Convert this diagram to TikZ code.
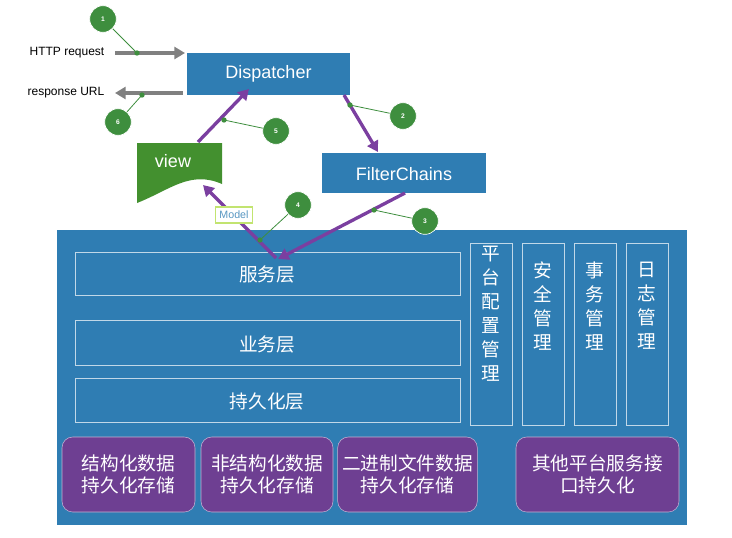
\documentclass[tikz,border=0pt]{standalone}
\usepackage{fontspec}
\setmainfont{Liberation Sans}
\newfontfamily\cjk{Noto Sans CJK SC}
\usetikzlibrary{arrows.meta}
\definecolor{pblue}{HTML}{2F7DB3}
\definecolor{ppur}{HTML}{6E3F92}
\definecolor{arrp}{HTML}{7B3FA0}
\definecolor{pgreen}{HTML}{43902F}
\definecolor{cgreen}{HTML}{3E8E3E}
\begin{document}
\begin{tikzpicture}[x=0.75pt,y=-0.75pt,
 txt/.style={text=white,font=\fontsize{13.5}{13.5}\selectfont},
 ctxt/.style={text=white,font=\cjk\fontsize{14}{14}\selectfont},
 col/.style={text=white,align=center,inner sep=0,font=\cjk\fontsize{14}{18}\selectfont},
 frame/.style={draw=white!70!pblue,line width=0.6pt},
 pur/.style={fill=ppur,draw=white!60!ppur,rounded corners=8pt,text=white,align=center,font=\cjk\fontsize{14}{17}\selectfont},
 parr/.style={arrp,line width=2.5pt,-{Triangle[length=8pt,width=9pt]}},
 garr/.style={gray,line width=2.5pt,-{Triangle[length=8pt,width=9pt]}},
 num/.style={circle,fill=cgreen,draw=white,line width=0.5pt,minimum size=20pt,inner sep=0,text=white,font=\fontsize{5}{5}\selectfont\bfseries},
 lead/.style={cgreen,line width=0.6pt}]
\useasboundingbox (0,0) rectangle (732,537);
\fill[pblue] (57,230) rectangle (687,525);
\fill[pblue] (187,53) rectangle (350,95);
\node[txt] (dispt) at (268.5,74) {Dispatcher};
\fill[pblue] (322,153) rectangle (486,193);
\node[txt] (filt) at (404,174) {FilterChains};
\fill[pgreen] (137,143) -- (222,143) -- (222,184) .. controls (190,170) and (170,190) .. (137,203) -- cycle;
\node[txt] (view) at (173,161) {view};
\draw[frame] (75,252) rectangle (460,295) (75,320) rectangle (460,365) (75,378) rectangle (460,422);
\node[ctxt] (t1) at (267,274) {服务层};
\node[ctxt] (t2) at (267,344) {业务层};
\node[ctxt] (t3) at (267,401) {持久化层};
\foreach \a in {470,522,574,626}{\draw[frame] (\a,243) rectangle ++(42,182);}
\node[col,anchor=north] (c1) at (491,246) {平\\台\\配\\置\\管\\理};
\node[col,anchor=north] (c2) at (543,262) {安\\全\\管\\理};
\node[col,anchor=north] (c3) at (595,262) {事\\务\\管\\理};
\node[col,anchor=north] (c4) at (647,262) {日\\志\\管\\理};
\node[pur,minimum width=133*0.75pt,minimum height=75*0.75pt] (p1) at (128.5,474.5) {结构化数据\\持久化存储};
\node[pur,minimum width=132*0.75pt,minimum height=75*0.75pt] (p2) at (267,474.5) {非结构化数据\\持久化存储};
\node[pur,minimum width=133*0.75pt,minimum height=75*0.75pt] (p3) at (407.5,474.5) {二进制文件数据\\持久化存储};
\node[pur,minimum width=163*0.75pt,minimum height=75*0.75pt] (p4) at (597.5,474.5) {其他平台服务接\\口持久化};
\node[font=\fontsize{9}{9}\selectfont,anchor=east] (req) at (109,53) {HTTP request};
\node[font=\fontsize{9}{9}\selectfont,anchor=east] (resp) at (109,93) {response URL};
\coordinate (a1) at (115,53); \coordinate (a2) at (185,53);
\coordinate (b1) at (183,93); \coordinate (b2) at (115,93);
\draw[garr] (a1) -- (a2);
\draw[garr] (b1) -- (b2);
\coordinate (e1) at (344,95); \coordinate (e2) at (378,152);
\coordinate (f1) at (405,193); \coordinate (f2) at (278,259);
\coordinate (g1) at (198,142); \coordinate (g2) at (249,89);
\coordinate (h1) at (276,258); \coordinate (h2) at (203,185);
\draw[parr] (e1) -- (e2);
\draw[parr] (f1) -- (f2);
\draw[parr] (g1) -- (g2);
\draw[parr] (h1) -- (h2);
\node[draw=yellow!60!green!60,line width=1.2pt,fill=white,text=pblue!80,font=\fontsize{8}{8}\selectfont,inner sep=3pt] (model) at (234,215) {Model};
\foreach \n/\x/\y/\px/\py in {1/103/19/137/53,2/403/116/350/105,3/425/221/374/210,4/298/205/260/240,5/276/131/224/120,6/118/122/142/95}{
 \coordinate (q\n) at (\px,\py);
 \draw[lead] (q\n) -- (\x,\y);
 \fill[cgreen] (q\n) circle (2pt);
 \node[num] (n\n) at (\x,\y) {\n};}
\end{tikzpicture}
\end{document}
